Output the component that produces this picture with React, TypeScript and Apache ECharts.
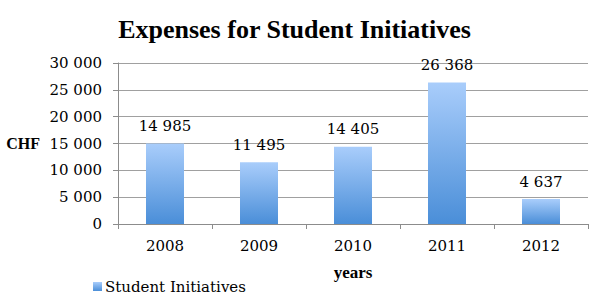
import React, { useEffect, useRef } from "react";
import * as echarts from "echarts";

const categories = ["2008", "2009", "2010", "2011", "2012"];
const values = [14985, 11495, 14405, 26368, 4637];
const seriesName = "Student Initiatives";

const fmt = (v: number) => {
  const s = String(Math.round(v));
  return s.replace(/\B(?=(\d{3})+(?!\d))/g, " ");
};

const FONT = "Liberation Serif";
const FONT2 = "DejaVu Serif";

export default function App() {
  const ref = useRef<HTMLDivElement>(null);
  useEffect(() => {
    if (!ref.current) return;
    const chart = echarts.init(ref.current, null, { renderer: "svg" });
    chart.setOption({
      animation: false,
      backgroundColor: "#ffffff",
      textStyle: { fontFamily: FONT },
      title: {
        text: "Expenses for Student Initiatives",
        left: "center",
        top: 11,
        textStyle: { fontFamily: FONT, fontWeight: "bold", fontSize: 26, color: "#000" },
      },
      legend: {
        left: 93,
        top: 279,
        padding: 0,
        icon: "rect",
        itemWidth: 9,
        itemHeight: 9,
        itemGap: 4,
        textStyle: { fontFamily: FONT2, fontSize: 15, color: "#000", padding: [0, 0, 0, -2] },
        data: [seriesName],
      },
      grid: { left: 118, right: 1, top: 63, bottom: 71, containLabel: false, outerBoundsMode: "none" },
      xAxis: {
        type: "category",
        data: categories,
        name: "years",
        nameLocation: "middle",
        nameGap: 40,
        nameTextStyle: { fontFamily: FONT, fontWeight: "bold", fontSize: 17, color: "#000" },
        axisLine: { lineStyle: { color: "#8c8c8c" } },
        axisTick: { show: true, length: 5, lineStyle: { color: "#8c8c8c" } },
        axisLabel: { fontFamily: FONT2, fontSize: 15, color: "#000", margin: 14 },
      },
      yAxis: {
        type: "value",
        min: 0,
        max: 30000,
        interval: 5000,
        name: "CHF",
        nameLocation: "middle",
        nameRotate: 0,
        nameGap: 78,
        nameTextStyle: { fontFamily: FONT, fontWeight: "bold", fontSize: 16, color: "#000" },
        axisLine: { show: true, lineStyle: { color: "#8c8c8c" } },
        axisTick: { show: true, length: 5, lineStyle: { color: "#8c8c8c" } },
        splitLine: { lineStyle: { color: "#a0a0a0" } },
        axisLabel: { fontFamily: FONT2, fontSize: 15, color: "#000", margin: 16, formatter: (v: number) => fmt(v) },
      },
      series: [
        {
          name: seriesName,
          type: "bar",
          data: values,
          barWidth: 38,
          itemStyle: {
            color: new echarts.graphic.LinearGradient(0, 0, 0, 1, [
              { offset: 0, color: "#a9cdfb" },
              { offset: 1, color: "#4a8ed8" },
            ]),
          },
          label: {
            show: true,
            position: "top",
            distance: 10,
            fontFamily: FONT2,
            fontSize: 15,
            color: "#000",
            formatter: (p: any) => fmt(p.value),
          },
        },
      ],
    });
    return () => chart.dispose();
  }, []);
  return (
    <div
      ref={ref}
      style={{ position: "absolute", left: 0, top: 0, width: 589, height: 295 }}
    />
  );
}
